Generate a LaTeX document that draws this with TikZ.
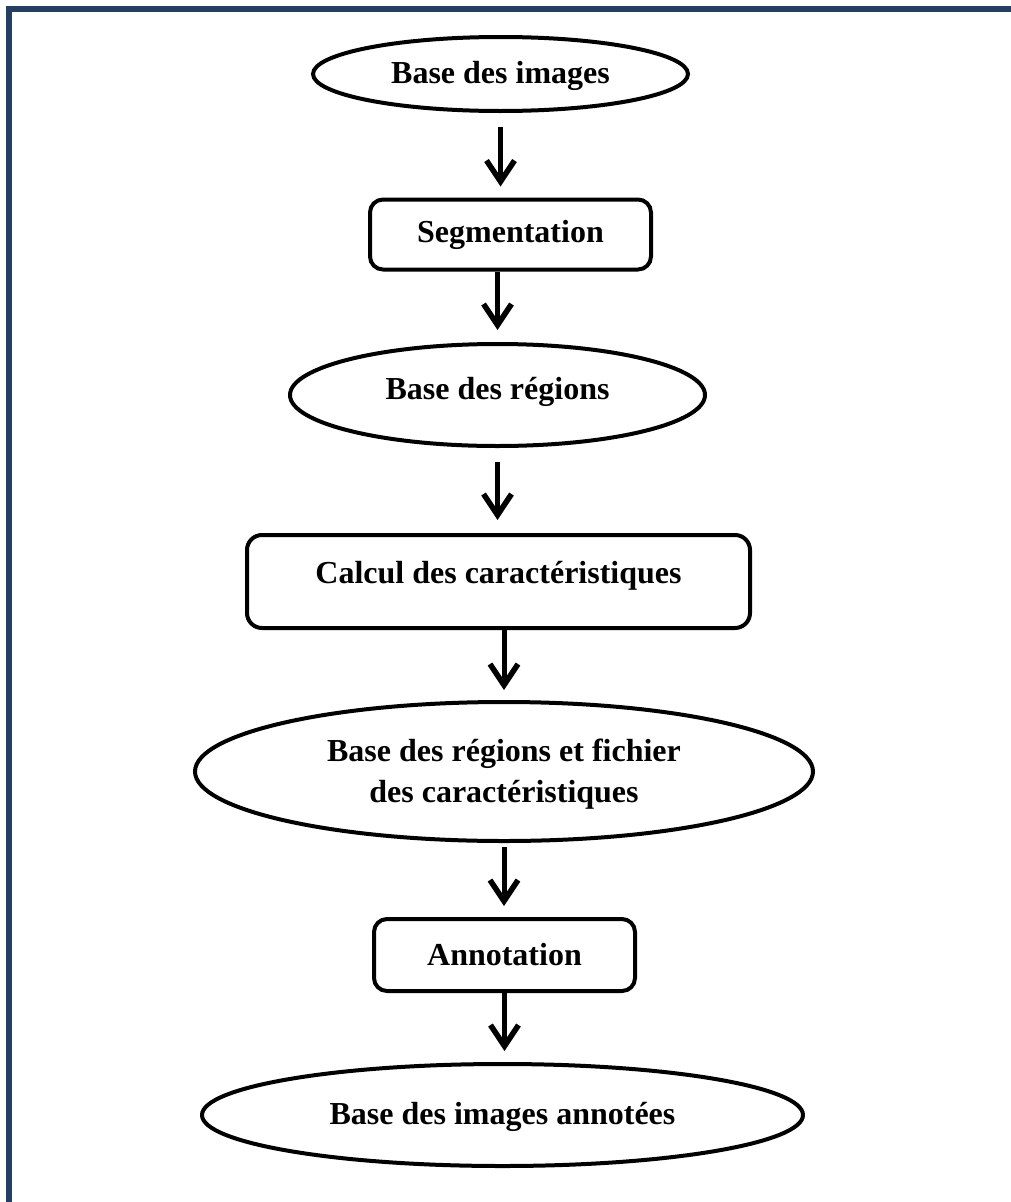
\documentclass[tikz,border=0pt]{standalone}
\usepackage{fontspec}
\setmainfont{Liberation Serif}
\usetikzlibrary{shapes.geometric,arrows.meta}
\definecolor{framecol}{HTML}{243F60}
\begin{document}
\begin{tikzpicture}[x=1pt,y=-1pt,
  every node/.style={font=\fontsize{32}{41}\selectfont\bfseries, inner sep=0pt, align=center},
  database/.style={ellipse, draw, line width=4pt},
  process/.style={rectangle, draw, line width=4pt, rounded corners=13pt},
  flow/.style={line width=5pt, -{Straight Barb[sharp, length=21pt, width=28pt, line width=5.5pt]}}
]
\useasboundingbox (0,0) rectangle (1011,1202);
% frame (left and top edges)
\draw[framecol, line width=6pt, line join=miter] (9,1202) -- (9,9) -- (1011,9);

% stages
\node[database, minimum width=375pt, minimum height=74pt, text depth=4pt] (e1) at (500.5,74) {Base des images};
\node[process, minimum width=281pt, minimum height=70pt] (seg) at (510.5,234.5) {Segmentation};
\node[database, minimum width=415pt, minimum height=102pt, text depth=14pt] (e2) at (497.5,395) {Base des régions};
\node[process, minimum width=503pt, minimum height=93pt, text depth=18pt, rounded corners=15pt] (calc) at (498.5,581.5) {Calcul des caractéristiques};
\node[database, minimum width=618pt, minimum height=139pt, text depth=2pt] (e4) at (504,771.5) {Base des régions et fichier\\des caractéristiques};
\node[process, minimum width=261pt, minimum height=72pt] (ann) at (504.5,955) {Annotation};
\node[database, minimum width=601pt, minimum height=102pt, text depth=3pt] (e6) at (502.5,1115) {Base des images annotées};

% connectors
\draw[flow, shorten <=14pt, shorten >=11pt] (e1.south) -- (e1.south |- seg.north);
\draw[flow, shorten >=12pt] (e2.north |- seg.south) -- (e2.north);
\draw[flow, shorten <=14pt, shorten >=13pt] (e2.south) -- (e2.south |- calc.north);
\draw[flow, shorten >=10pt] (e4.north |- calc.south) -- (e4.north);
\draw[flow, shorten <=4pt, shorten >=11pt] (e4.south) -- (e4.south |- ann.north);
\draw[flow, shorten >=11pt] (ann.south) -- (ann.south |- e6.north);
\end{tikzpicture}
\end{document}
